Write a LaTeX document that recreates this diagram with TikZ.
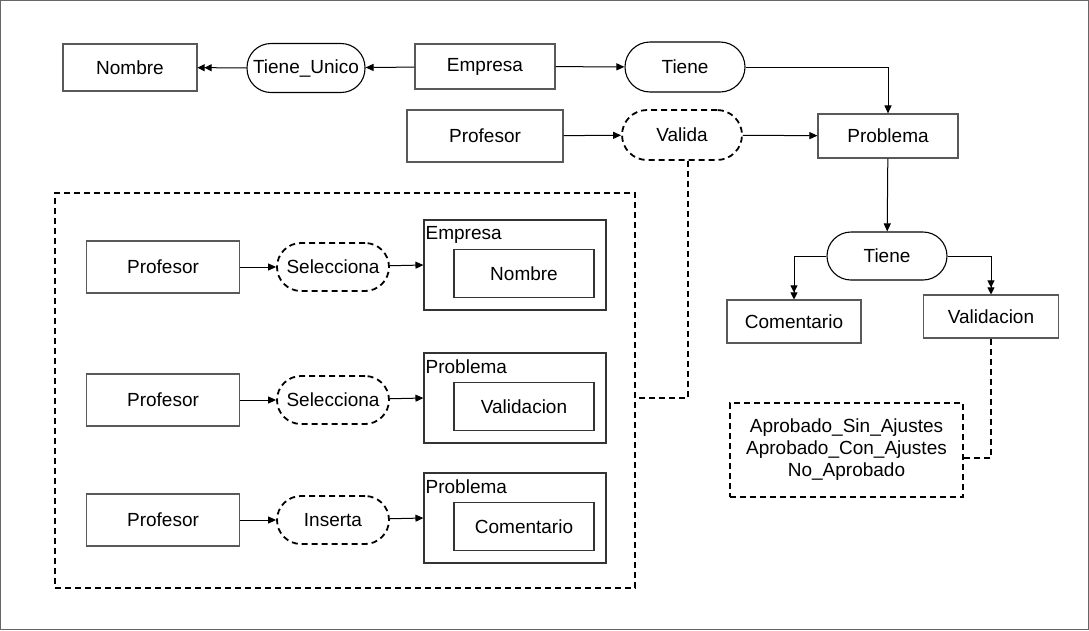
\documentclass[tikz,border=0pt]{standalone}
\usepackage{fontspec}
\setmainfont{Liberation Sans}
\usetikzlibrary{arrows.meta,calc}

\begin{document}
\begin{tikzpicture}
	[x=1pt,y=-1pt,
	font=\fontsize{19}{22}\selectfont,
	ent/.style={draw=black!65,line width=1.1pt,minimum width=#1,minimum height=47pt,inner sep=0pt},
	rel/.style={draw,line width=1.1pt,rounded corners=24pt,minimum width=#1,minimum height=49pt,inner sep=0pt},
	dsh/.style={line width=1.8pt,dash pattern=on 6pt off 4pt},
	arr/.style={line width=1pt,-{Triangle[length=8pt,width=7pt]}},
	arr2/.style={line width=1pt,-{Triangle[length=7pt,width=7pt]Triangle[length=7pt,width=7pt]}}]
	\useasboundingbox (0,0) rectangle (1089,630);
	\draw[black!60,line width=1pt] (0.5,0.5) rectangle (1088.5,629.5);
	
	% upper part
	\node[ent=134pt] (nom) at (130,67.5) {Nombre};
	\node[rel=118pt] (tu) at (306,68) {Tiene\_Unico};
	\node[ent=140pt,minimum height=45pt] (emp) at (485,66.5) {Empresa};
	\node[rel=120pt,minimum height=50pt,rounded corners=25pt] (ti) at (685,67) {Tiene};
	\node[ent=156pt,minimum height=52pt] (pro) at (485,136) {Profesor};
	\node[rel=120pt,minimum height=50pt,rounded corners=25pt,dsh] (va) at (682,135) {Valida};
	\node[ent=140pt,minimum height=44pt] (prb) at (888,136) {Problema};
	\node[rel=120pt,minimum height=48pt] (ti2) at (887,256) {Tiene};
	\node[ent=134pt,minimum height=43pt] (com) at (794,321.5) {Comentario};
	\node[ent=135pt,minimum height=43pt] (val) at (991,316.5) {Validacion};
	\node[draw,dsh,minimum width=233pt,minimum height=94pt,align=center] (vals) at (846.5,450)
		{Aprobado\_Sin\_Ajustes\\Aprobado\_Con\_Ajustes\\No\_Aprobado};
	
	\foreach \from/\to in {emp/tu,emp/ti,pro/va,va/prb}
	\draw[arr] (\from) -- (\to);
	\draw[arr2] (tu) -- (nom);
	\draw[arr] (ti.east) -| (prb.north);
	\draw[arr] (prb) -- (ti2);
	\draw[arr2] (ti2.west) -| (com.north);
	\draw[arr2] (ti2.east) -| (val.north);
	\draw[dsh] (val.south) |- ([yshift=-8pt]vals.east);
	
	% group
	\node[draw,dsh,minimum width=580pt,minimum height=395pt] (grp) at (345,390.5) {};
	\draw[dsh] ([xshift=6pt]va.south) |- ([yshift=-7.5pt]grp.east);
	
	\foreach \i/\y/\verb/\cont/\inner in {1/267/Selecciona/Empresa/Nombre,2/400/Selecciona/Problema/Validacion,3/520/Inserta/Problema/Comentario}
	{
		\node[ent=153pt,minimum height=52pt] (p\i) at (163,\y) {Profesor};
		\node[rel=112pt,minimum height=48pt,dsh] (r\i) at (333,\y) {\verb};
		\node[draw=black!80,line width=1.1pt,minimum width=182pt,minimum height=90pt] (c\i) at (515,\y-2) {};
		\node[anchor=north west,inner sep=1pt] (l\i) at ([xshift=1pt,yshift=-6pt]c\i.north west) {\cont};
		\node[draw=black!80,line width=1.1pt,minimum width=140pt,minimum height=48pt] (n\i) at (524,\y+6.5) {\inner};
		\draw[arr] (p\i) -- (r\i);
		\draw[arr] (r\i) -- (c\i.west);
	}
\end{tikzpicture}
\end{document}
